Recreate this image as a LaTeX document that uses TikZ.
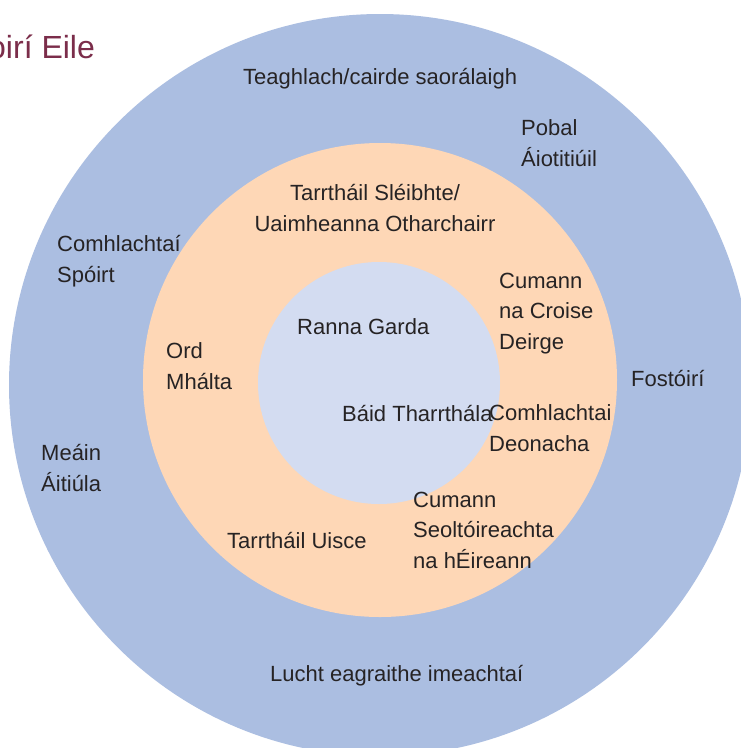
\documentclass[tikz,border=0pt]{standalone}
\usepackage{fontspec}
\setmainfont{Liberation Sans}
\usepackage{tikz}
\definecolor{ringout}{HTML}{ABBEE1}
\definecolor{ringmid}{HTML}{FED7B6}
\definecolor{ringin}{HTML}{D3DCF1}
\definecolor{titlered}{HTML}{7B2D4A}
\definecolor{labeltxt}{HTML}{262324}
\tikzset{lbl/.style={anchor=base west, inner sep=0pt, align=left, text=labeltxt,
    font=\fontsize{22}{30.5}\selectfont}}

\begin{document}
\begin{tikzpicture}[x=1pt, y=-1pt]
      \useasboundingbox (0,0) rectangle (740,748);
      \fill[white] (0,0) rectangle (740,748);
      \fill[ringout] (380,385) circle (371);
      \fill[ringmid] (380,380) circle (237);
      \fill[ringin] (379,383) circle (121);
      \node[anchor=base west, inner sep=0pt, text=titlered, font=\fontsize{32}{36}\selectfont] (title) at (-12,58) {oirí Eile};
      % outer ring (multi-line nodes sit on their last line)
      \node[lbl] (family) at (243,84) {Teaghlach/cairde saorálaigh};
      \node[lbl] (pobal) at (521,166) {Pobal\\Áiotitiúil};
      \node[lbl] (sport) at (57,282) {Comhlachtaí\\Spóirt};
      \node[lbl] (employ) at (631,386) {Fostóirí};
      \node[lbl] (media) at (41,491) {Meáin\\Áitiúla};
      \node[lbl] (events) at (270,681) {Lucht eagraithe imeachtaí};
      % middle ring
      \node[lbl, anchor=base, align=center] (mountain) at (375,231) {Tarrtháil Sléibhte/\\Uaimheanna Otharchairr};
      \node[lbl] (redcross) at (499,349) {Cumann\\na Croise\\Deirge};
      \node[lbl] (malta) at (166,389) {Ord\\Mhálta};
      \node[lbl] (volunt) at (489,451) {Comhlachtai\\Deonacha};
      \node[lbl] (sailing) at (413,568) {Cumann\\Seoltóireachta\\na hÉireann};
      \node[lbl] (water) at (227,548) {Tarrtháil Uisce};
      % inner circle
      \node[lbl] (garda) at (297,334) {Ranna Garda};
      \node[lbl] (boats) at (342,421) {Báid Tharrthála};
\end{tikzpicture}
\end{document}
